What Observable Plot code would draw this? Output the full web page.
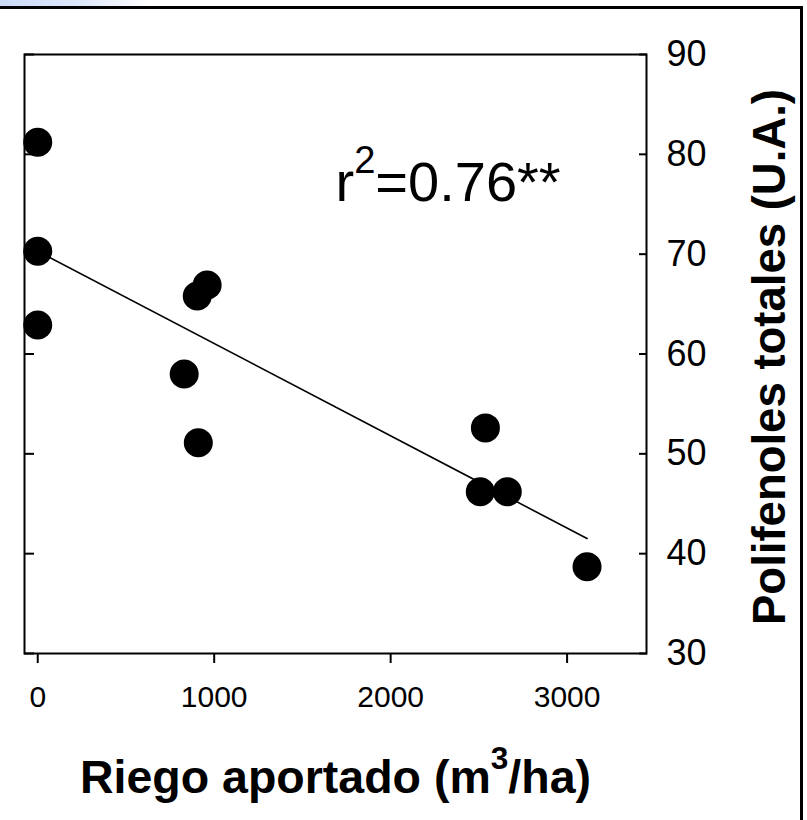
<!DOCTYPE html>
<html>
<head>
<meta charset="utf-8">
<script src="https://cdn.jsdelivr.net/npm/d3@7"></script>
<script src="https://cdn.jsdelivr.net/npm/@observablehq/plot@0.6"></script>
<style>
  html, body { margin: 0; padding: 0; background: #fff; }
  #wrap { position: relative; width: 807px; height: 820px; overflow: hidden; background: #fff; }
  #deco-grad { position: absolute; left: 0; top: 0; width: 150px; height: 7px;
    background: linear-gradient(to right, #c9d9f6 0%, #dfe8fb 55%, #ffffff 100%); }
  #deco-top { position: absolute; left: 0; top: 6px; width: 803px; height: 3px; background: #000; }
  #deco-right { position: absolute; left: 800px; top: 6px; width: 3px; height: 814px; background: #000; }
  #chart { position: absolute; left: 0; top: 0; }
</style>
</head>
<body>
<div id="wrap">
  <div id="deco-grad"></div>
  <div id="chart"></div>
  <div id="deco-top"></div>
  <div id="deco-right"></div>
</div>
<script>
// ---- data ----
const irrigation  = [0, 0, 0, 830, 904, 960, 910, 2508, 2537, 2661, 3113];     // m³/ha
const polyphenols = [81.2, 70.3, 62.9, 58.0, 65.8, 66.9, 51.1, 46.2, 52.6, 46.2, 38.7]; // U.A.
const xTicks = [0, 1000, 2000, 3000];
const yTicks = [30, 40, 50, 60, 70, 80, 90];
const xLabel = "Riego aportado (m³/ha)";
const yLabel = "Polifenoles totales (U.A.)";
const r2Label = "r²=0.76**";

const data = irrigation.map((x, i) => ({x, y: polyphenols[i]}));

const chart = Plot.plot({
  width: 807,
  height: 820,
  marginLeft: 24,
  marginRight: 161,
  marginTop: 54,
  marginBottom: 167,
  style: { fontFamily: "'Liberation Sans', Arial, sans-serif", background: "transparent", overflow: "visible", color: "#000" },
  x: { domain: [-75, 3450] },
  y: { domain: [30, 90] },
  marks: [
    Plot.frame({ stroke: "#000", strokeWidth: 2 }),
    Plot.axisX({ ticks: xTicks, tickSize: 10, tickPadding: 22, fontSize: 30, label: null, strokeWidth: 2, tickFormat: d => String(d) }),
    Plot.axisY({ anchor: "right", ticks: yTicks, tickSize: -8, tickPadding: 28, fontSize: 36, label: null, strokeWidth: 2, tickFormat: d => String(d) }),
    Plot.axisY({ anchor: "left", ticks: yTicks, tickSize: -10, label: null, strokeWidth: 2, tickFormat: () => "" }),
    Plot.linearRegressionY(data, { x: "x", y: "y", stroke: "#000", strokeWidth: 1.6, ci: 0 }),
    Plot.dot(data, { x: "x", y: "y", r: 14.5, fill: "#000", stroke: "none" }),
    Plot.text([r2Label], { text: d => d, frameAnchor: "top-left", dx: 311, dy: 146, textAnchor: "start", lineAnchor: "bottom", fontSize: 56, fill: "#000" }),
    Plot.text([xLabel], { text: d => d, frameAnchor: "bottom", dy: 139, textAnchor: "middle", lineAnchor: "bottom", fontSize: 46.5, fontWeight: "bold", fill: "#000" }),
    Plot.text([yLabel], { text: d => d, frameAnchor: "right", dx: 138, dy: 3, rotate: -90, textAnchor: "middle", lineAnchor: "bottom", fontSize: 45.5, fontWeight: "bold", fill: "#000" })
  ]
});

// turn ² / ³ into real raised superscripts (still real text)
function superscriptify(svg) {
  const map = { "²": "2", "³": "3" };
  svg.querySelectorAll("text, tspan").forEach(el => {
    if (el.children.length) return;
    const s = el.textContent;
    const m = s.match(/[²³]/);
    if (!m) return;
    let fs = NaN, node = el;
    while (node && node !== svg && isNaN(fs)) {
      fs = parseFloat(node.getAttribute && node.getAttribute("font-size"));
      node = node.parentNode;
    }
    if (isNaN(fs)) fs = 40;
    const i = m.index;
    const ns = "http://www.w3.org/2000/svg";
    el.textContent = "";
    const a = document.createElementNS(ns, "tspan"); a.textContent = s.slice(0, i);
    const b = document.createElementNS(ns, "tspan"); b.textContent = map[m[0]];
    b.setAttribute("font-size", (fs * 0.68).toFixed(1));
    b.setAttribute("dy", (-fs * 0.5).toFixed(1));
    const c = document.createElementNS(ns, "tspan"); c.textContent = s.slice(i + 1);
    c.setAttribute("dy", (fs * 0.5).toFixed(1));
    el.append(a, b, c);
  });
}
superscriptify(chart);
document.getElementById("chart").appendChild(chart);
</script>
</body>
</html>
